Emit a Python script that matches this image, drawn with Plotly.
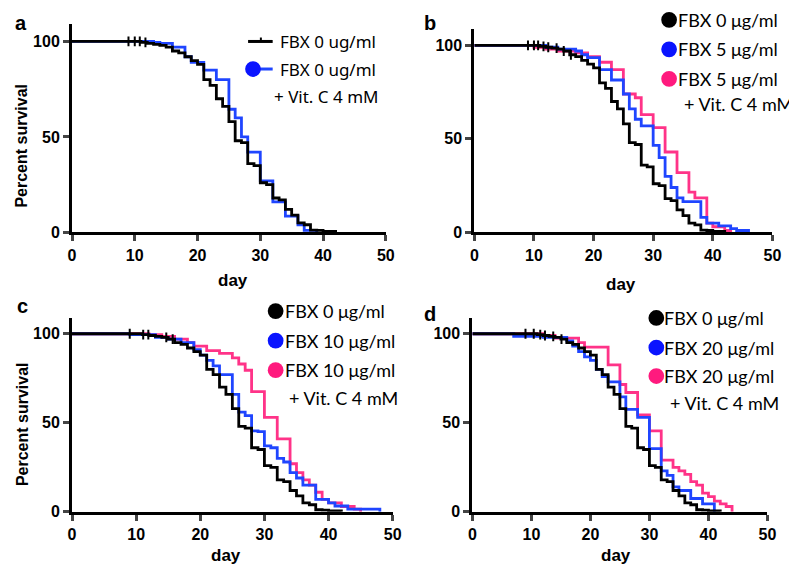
import plotly.graph_objects as go

# survival data (day, percent survival after that day)
ctrl_days = [0, 11, 12, 13, 14, 15, 16, 17, 18, 19, 20, 21, 22, 23, 24, 25, 26, 27, 28, 29, 30, 31, 32, 33, 34, 35, 36, 37, 38, 39, 40, 42]
ctrl_surv = [100, 99.5, 99, 98.5, 98, 97, 95, 94, 92, 90, 88, 80, 77, 70, 66, 58, 48, 47, 36, 35, 26, 25, 18, 17, 12, 9, 5, 4, 1.2, 1, 0.5, 0]

a_vitc_days = [0, 13, 14, 16, 18, 19, 21, 23, 25, 26, 27, 28, 30, 32, 34, 36, 37, 39]
a_vitc_surv = [100, 99.5, 99, 97, 92, 89, 85, 80, 64.5, 60, 50, 42, 27, 16, 8.5, 4, 1, 0]

b_fbx_days = [0, 12, 14, 17, 18, 19, 21, 23, 25, 26, 27, 28, 30, 31, 32, 33, 34, 35, 38, 39, 41, 43, 44, 46]
b_fbx_surv = [100, 99, 98, 97, 95, 93.5, 87, 81.5, 74, 66, 60.5, 57, 46.5, 40, 30, 24, 18.5, 16.5, 8, 5, 3.5, 2, 1, 0]
b_vitc_days = [0, 10, 12, 14, 17, 19, 21, 23, 25, 27, 28, 30, 32, 34, 36, 37, 39, 40, 42, 43]
b_vitc_surv = [100, 99, 98, 97, 96, 94, 91, 87, 74, 72, 63, 56, 43, 32, 21.5, 18.5, 5, 3, 1, 0]

c_fbx_days = [0, 9, 13, 15, 17, 19, 20, 21, 22, 23, 25, 26, 27, 28, 29, 30, 31, 32, 33, 34, 35, 36, 38, 40, 41, 43, 48]
c_fbx_surv = [100, 99.5, 98, 97, 95, 91, 88, 85, 82, 77, 66, 56, 54, 45.5, 45, 37, 36, 30, 28, 22, 19, 15, 7, 5, 3.3, 1.5, 0]
c_vitc_days = [0, 12, 14, 16, 18, 19, 21, 23, 25, 26, 27, 28, 30, 32, 34, 35, 36, 37, 38, 39, 40, 42, 44, 45]
c_vitc_surv = [100, 99.5, 98.5, 97, 95, 93, 90.5, 89, 86.5, 83, 79.5, 67.5, 53, 41, 27, 22, 18, 15, 11, 7, 5, 3, 1.5, 0]

d_fbx_days = [0, 7, 12, 16, 17, 18, 19, 20, 21, 22, 23, 25, 26, 28, 30, 32, 33, 34, 35, 37, 39, 41]
d_fbx_surv = [100, 98.5, 98, 96, 93, 90, 87, 85, 80, 76, 73, 64.5, 57.5, 53, 35.5, 23, 20.5, 14, 12, 7.5, 4.5, 0]
d_vitc_days = [0, 12, 14, 18, 19, 23, 25, 26, 28, 30, 32, 34, 35, 36, 37, 38, 39, 40, 41, 42, 43, 44]
d_vitc_surv = [100, 99, 97.5, 95, 92.5, 82.5, 71.5, 67, 54.5, 45.5, 29, 25, 23, 21, 17, 15, 10.5, 8.5, 6, 4.5, 3, 0]

# censored points on the control curve
ctrl_censor = {
    "a": [9, 10, 10.8, 11.7],
    "b": [9, 10, 10.7, 11.6, 12.4, 13.8, 15, 16.2],
    "c": [9, 11.1, 11.9, 14.7, 15.7],
    "d": [9, 10.4, 11.5, 12.3, 13.7, 15.1],
}

vitc_label = "+ Vit. C 4 mM"
legend_a = ["FBX 0 ug/ml", "FBX 0 ug/ml"]
legend_b = ["FBX 0 μg/ml", "FBX 5 μg/ml", "FBX 5 μg/ml"]
legend_c = ["FBX 0 μg/ml", "FBX 10 μg/ml", "FBX 10 μg/ml"]
legend_d = ["FBX 0 μg/ml", "FBX 20 μg/ml", "FBX 20 μg/ml"]

BLACK = "#000000"
BLUE = "#1f45ff"
PINK = "#ff3388"
DOT_BLUE = "#0a14ff"
DOT_PINK = "#ff1a7e"

W, H = 797, 566


def surv_at(days, surv, t):
    val = surv[0]
    for d, s in zip(days, surv):
        if d <= t:
            val = s
    return val


def px(x):
    return x / W


def py(y):
    return 1 - y / H


fig = go.Figure()

panels = {
    # name: (x domain px, y px for 0 and 100, series)
    "a": ((61, 380), (228, 34), [(a_vitc_days, a_vitc_surv, BLUE)]),
    "b": ((470, 773), (228, 38), [(b_fbx_days, b_fbx_surv, BLUE), (b_vitc_days, b_vitc_surv, PINK)]),
    "c": ((61, 387), (512, 331), [(c_fbx_days, c_fbx_surv, BLUE), (c_vitc_days, c_vitc_surv, PINK)]),
    "d": ((468, 768), (512, 331), [(d_fbx_days, d_fbx_surv, BLUE), (d_vitc_days, d_vitc_surv, PINK)]),
}

ytop = 109
tickfont = dict(family="Arial", size=16, color="black", weight="bold")

for i, (name, (xd, yd, series)) in enumerate(panels.items()):
    n = "" if i == 0 else str(i + 1)
    unit = (yd[0] - yd[1]) / 100.0
    top_px = yd[0] - unit * ytop
    fig.update_layout(**{
        "xaxis" + n: dict(domain=[px(xd[0]), px(xd[1])], range=[0, 50], anchor="y" + n,
                          tickvals=[0, 10, 20, 30, 40, 50], ticks="outside", ticklen=6, tickwidth=3,
                          showline=True, linewidth=3, linecolor="black", showgrid=False,
                          zeroline=False, tickfont=tickfont),
        "yaxis" + n: dict(domain=[py(yd[0]), py(top_px)], range=[0, ytop], anchor="x" + n,
                          tickvals=[0, 50, 100], ticks="outside", ticklen=6, tickwidth=3,
                          showline=True, linewidth=3, linecolor="black", showgrid=False,
                          zeroline=False, tickfont=tickfont),
    })
    # drug curves first, control on top
    for days, surv, col in series[::-1]:
        fig.add_trace(go.Scatter(x=days, y=surv, mode="lines", line=dict(color=col, width=2.8, shape="hv"),
                                 xaxis="x" + n, yaxis="y" + n, showlegend=False))
    fig.add_trace(go.Scatter(x=ctrl_days, y=ctrl_surv, mode="lines", line=dict(color=BLACK, width=2.8, shape="hv"),
                             xaxis="x" + n, yaxis="y" + n, showlegend=False))
    cens = ctrl_censor[name]
    fig.add_trace(go.Scatter(x=cens, y=[surv_at(ctrl_days, ctrl_surv, t) for t in cens], mode="markers",
                             marker=dict(symbol="line-ns", size=7, line=dict(width=2, color=BLACK)),
                             xaxis="x" + n, yaxis="y" + n, showlegend=False))

ann = []
shapes = []


def text_at(x, y, text, **kw):
    d = dict(x=px(x), y=py(y), xref="paper", yref="paper", text=text, showarrow=False,
             xanchor="center", yanchor="middle")
    d.update(kw)
    ann.append(d)


# panel letters
for letter, (x, y) in {"a": (9, 15), "b": (425, 15), "c": (11, 303), "d": (425, 311)}.items():
    text_at(x, y, "<b>" + letter + "</b>", font=dict(family="Arial", size=20, color="black"))

# axis titles
for x, y in [(225, 277), (619, 281), (218, 556), (614, 556)]:
    text_at(x, y, "<b>day</b>", font=dict(family="Arial", size=17, color="black"))
for x, y in [(10, 140), (10, 423)]:
    text_at(x, y, "<b>Percent survival</b>", textangle=-90, font=dict(family="Arial", size=16, color="black"))

# legend of panel a
shapes.append(dict(type="line", xref="paper", yref="paper", x0=px(240), x1=px(265), y0=py(34), y1=py(34),
                   line=dict(color=BLACK, width=3)))
shapes.append(dict(type="line", xref="paper", yref="paper", x0=px(253), x1=px(253), y0=py(34), y1=py(30),
                   line=dict(color=BLACK, width=2)))
shapes.append(dict(type="line", xref="paper", yref="paper", x0=px(245), x1=px(265), y0=py(62), y1=py(62),
                   line=dict(color=BLUE, width=3)))
shapes.append(dict(type="circle", xref="paper", yref="paper", x0=px(237), x1=px(253), y0=py(54), y1=py(70),
                   fillcolor=DOT_BLUE, line=dict(width=0)))
font_a = dict(family="Noto Sans", size=17, color="black")
text_at(270, 34, legend_a[0], xanchor="left", font=font_a)
text_at(270, 63, legend_a[1], xanchor="left", font=font_a)
text_at(264, 90, vitc_label, xanchor="left", font=font_a)

# legends of panels b, c, d
font_l = dict(family="Lato", size=18, color="black")
for labels, cx, tx, ys, vx, vy in [(legend_b, 668, 675, [12, 42, 72], 681, 98),
                                   (legend_c, 268, 275, [308, 338, 368], 280, 396),
                                   (legend_d, 655, 661, [315, 345, 374], 667, 401)]:
    for lab, col, y in zip(labels, [BLACK, DOT_BLUE, DOT_PINK], ys):
        shapes.append(dict(type="circle", xref="paper", yref="paper", x0=px(cx - 8), x1=px(cx + 8),
                           y0=py(y + 8), y1=py(y - 8), fillcolor=col, line=dict(width=0)))
        text_at(tx, y, lab, xanchor="left", font=font_l)
    text_at(vx, vy, vitc_label, xanchor="left", font=font_l)

fig.update_layout(width=W, height=H, margin=dict(l=0, r=0, t=0, b=0), plot_bgcolor="white",
                  paper_bgcolor="white", annotations=ann, shapes=shapes, showlegend=False)

fig.write_html("out.html")
